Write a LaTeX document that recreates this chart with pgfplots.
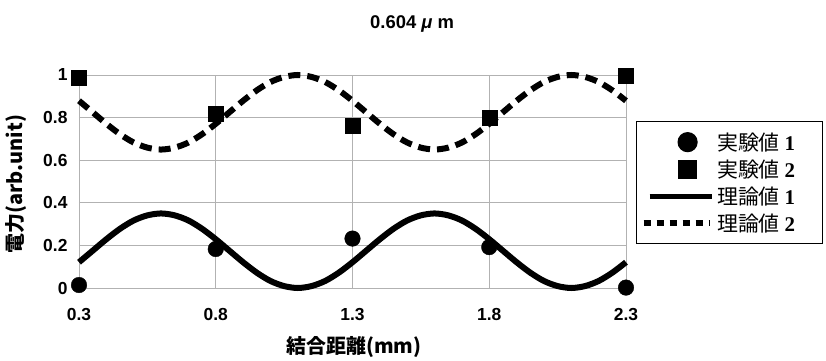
\documentclass[border=0pt]{standalone}
\usepackage{fontspec}
\setmainfont{Liberation Sans}
\newfontfamily\jp{Noto Sans CJK JP}
\newfontfamily\serifnum{Liberation Serif}
\usepackage{pgfplots}
\pgfplotsset{compat=1.18}
\usepackage{pgfplotstable}

\pgfplotsset{
  markleg/.style={legend image code/.code={\path[draw=none,fill=none] (0bp,-10bp) rectangle (67bp,10bp);
    \draw[mark repeat=1,mark phase=1,##1,mark size=#1] plot coordinates {(44bp,0bp)};}},
  solidleg/.style={legend image code/.code={\path[draw=none,fill=none] (0bp,-10bp) rectangle (67bp,10bp);
    \draw[##1, line width=5bp] (6bp,0bp) -- (68bp,0bp);}},
  dashleg/.style={legend image code/.code={\path[draw=none,fill=none] (0bp,-10bp) rectangle (67bp,10bp);
    \draw[##1, line width=6bp, dash pattern=on 7bp off 6bp] (0bp,0bp) -- (66bp,0bp);}},
}

\pgfplotstableread{
x y
0.3 0.014
0.8 0.183
1.3 0.232
1.8 0.192
2.3 0.002
}\expone
\pgfplotstableread{
x y
0.3 0.986
0.8 0.820
1.3 0.760
1.8 0.800
2.3 0.996
}\exptwo
\pgfplotstableread{
x y
0.30 0.121
0.35 0.175
0.40 0.229
0.45 0.278
0.50 0.317
0.55 0.341
0.60 0.350
0.65 0.341
0.70 0.317
0.75 0.278
0.80 0.229
0.85 0.175
0.90 0.121
0.95 0.072
1.00 0.033
1.05 0.009
1.10 0.000
1.15 0.009
1.20 0.033
1.25 0.072
1.30 0.121
1.35 0.175
1.40 0.229
1.45 0.278
1.50 0.317
1.55 0.341
1.60 0.350
1.65 0.341
1.70 0.317
1.75 0.278
1.80 0.229
1.85 0.175
1.90 0.121
1.95 0.072
2.00 0.033
2.05 0.009
2.10 0.000
2.15 0.009
2.20 0.033
2.25 0.072
2.30 0.121
}\theoone
\pgfplotstableread{
x y
0.30 0.879
0.35 0.825
0.40 0.771
0.45 0.722
0.50 0.683
0.55 0.659
0.60 0.650
0.65 0.659
0.70 0.683
0.75 0.722
0.80 0.771
0.85 0.825
0.90 0.879
0.95 0.928
1.00 0.967
1.05 0.991
1.10 1.000
1.15 0.991
1.20 0.967
1.25 0.928
1.30 0.879
1.35 0.825
1.40 0.771
1.45 0.722
1.50 0.683
1.55 0.659
1.60 0.650
1.65 0.659
1.70 0.683
1.75 0.722
1.80 0.771
1.85 0.825
1.90 0.879
1.95 0.928
2.00 0.967
2.05 0.991
2.10 1.000
2.15 0.991
2.20 0.967
2.25 0.928
2.30 0.879
}\theotwo

\begin{document}
\begin{tikzpicture}
\path[use as bounding box] (-79bp,-73bp) rectangle (747bp,288bp);
\begin{axis}[
  at={(0,0)}, anchor=south west,
  scale only axis, width=547bp, height=213bp,
  xmin=0.3, xmax=2.3, ymin=0, ymax=1,
  xtick={0.3,0.8,1.3,1.8,2.3},
  ytick={0,0.2,0.4,0.6,0.8,1},
  grid=major,
  major grid style={gray!60, line width=0.7bp},
  axis line style={gray!60, line width=0.8bp},
  major tick length=0pt,
  tick label style={font=\fontsize{17.5}{17.5}\selectfont\bfseries},
  /pgf/number format/assume math mode=true,
  xticklabel style={/pgf/number format/.cd,fixed,fixed zerofill,precision=1},
  yticklabel style={/pgf/number format/.cd,fixed,precision=1},
  xticklabel shift=17bp,
  yticklabel shift=8bp,
  clip=false,
  title={\bfseries 0.604 {\itshape μ} m},
  title style={at={(axis description cs:0.609,1.21)}, anchor=center, font=\fontsize{18.5}{18.5}\selectfont},
  xlabel={\jp\bfseries 結合距離(mm)},
  xlabel style={at={(axis description cs:0.503,-0.277)}, anchor=center, font=\fontsize{20}{20}\selectfont},
  ylabel={\jp\bfseries 電力(arb.unit)},
  ylabel style={at={(axis description cs:-0.1152,0.488)}, anchor=center, font=\fontsize{20}{20}\selectfont},
  legend cell align=left,
  legend style={at={(axis description cs:1.0183,0.784)}, anchor=north west,
    draw=black, line width=1.2bp, inner xsep=4bp, inner ysep=10bp, row sep=6bp, column sep=2bp,
    nodes={inner sep=1bp},
    font=\fontsize{21}{21}\selectfont},
]
\addplot[only marks, mark=*, mark size=7.8bp, mark options={fill=black, draw=black}, markleg=9.5bp]
  table[x=x,y=y] {\expone};
\addlegendentry{\makebox[100bp][l]{\jp 実験値 \serifnum\bfseries 1}}
\addplot[only marks, mark=square*, mark size=7.5bp, mark options={fill=black, draw=black}, markleg=9bp]
  table[x=x,y=y] {\exptwo};
\addlegendentry{\makebox[100bp][l]{\jp 実験値 \serifnum\bfseries 2}}
\addplot[black, line width=6bp, smooth, no marks, solidleg]
  table[x=x,y=y] {\theoone};
\addlegendentry{\makebox[100bp][l]{\jp 理論値 \serifnum\bfseries 1}}
\addplot[black, line width=6bp, smooth, no marks, dash pattern=on 12bp off 7bp, dashleg]
  table[x=x,y=y] {\theotwo};
\addlegendentry{\makebox[100bp][l]{\jp 理論値 \serifnum\bfseries 2}}
\end{axis}
\end{tikzpicture}
\end{document}
